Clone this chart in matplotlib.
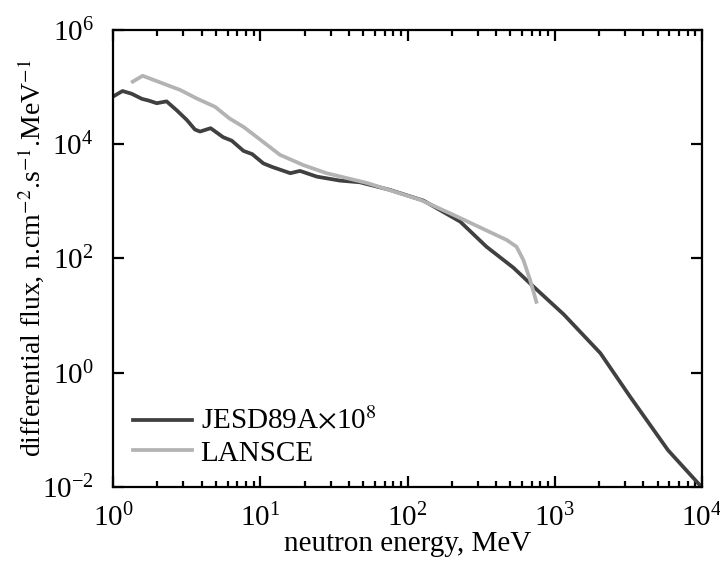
import matplotlib
matplotlib.use('Agg')
import matplotlib.pyplot as plt
import numpy as np

# JESD89A spectrum (scaled by 1e8)
jesd_e = [1.0, 1.16, 1.34, 1.57, 1.74, 1.98, 2.31, 2.71, 3.17, 3.6, 3.9, 4.6,
          5.6, 6.4, 7.7, 8.8, 10.5, 12.0, 16.0, 18.6, 24.2, 34.8, 47.5, 76,
          128, 228, 344, 523, 718, 1150, 2040, 3250, 5880, 10000]
jesd_f = [6.8e4, 8.5e4, 7.6e4, 6.2e4, 5.8e4, 5.2e4, 5.6e4, 3.9e4, 2.65e4, 1.8e4,
          1.66e4, 1.9e4, 1.32e4, 1.15e4, 7.6e3, 6.7e3, 4.6e3, 4.0e3, 3.1e3, 3.4e3,
          2.7e3, 2.3e3, 2.15e3, 1.58e3, 1.03e3, 440, 160, 69, 32, 10.5, 2.2, 0.38,
          0.044, 0.0098]

# LANSCE spectrum
lan_e = [1.36, 1.59, 2.31, 2.85, 3.7, 4.93, 6.2, 7.7, 9.7, 13.6, 19.6, 28.2,
         52.7, 121, 206, 472, 550, 613, 680, 750]
lan_f = [1.24e5, 1.57e5, 1.09e5, 8.9e4, 6.3e4, 4.5e4, 2.8e4, 2.0e4, 1.27e4,
         6.5e3, 4.3e3, 3.1e3, 2.1e3, 1.07e3, 575, 210, 160, 93, 42, 17.4]

plt.rcParams['font.family'] = ['Liberation Serif', 'DejaVu Serif']
plt.rcParams['mathtext.fontset'] = 'stix'
plt.rcParams['font.size'] = 21

fig = plt.figure(figsize=(7.2, 5.63), dpi=100)
ax = fig.add_axes([0.157, 0.135, 0.818, 0.812])

ax.plot(jesd_e, jesd_f, color='#404040', lw=2.7, label=r'JESD89A$\times$10$^8$')
ax.plot(lan_e, lan_f, color='#b3b3b3', lw=2.7, label='LANSCE')

ax.set_xscale('log')
ax.set_yscale('log')
ax.set_xlim(1, 1e4)
ax.set_ylim(1e-2, 1e6)
ax.set_yticks([1e-2, 1e0, 1e2, 1e4, 1e6])
ax.yaxis.set_minor_locator(matplotlib.ticker.NullLocator())

for s in ax.spines.values():
    s.set_linewidth(1.6)
ax.tick_params(which='both', direction='in', top=True, right=True, width=1.6)
ax.tick_params(which='major', length=8)
ax.tick_params(axis='x', which='major', pad=12)
ax.tick_params(axis='y', which='major', pad=14)
ax.tick_params(which='minor', length=4)

ax.set_xlabel('neutron energy, MeV', labelpad=-1)
ax.set_ylabel(r'differential flux, n.cm$^{-2}$.s$^{-1}$.MeV$^{-1}$',
              fontsize=20, labelpad=-3)

ax.legend(loc='lower left', frameon=False, handlelength=2.0, handletextpad=0.3,
          borderaxespad=0.3, labelspacing=0.15)

fig.savefig('out.png', dpi=100)
